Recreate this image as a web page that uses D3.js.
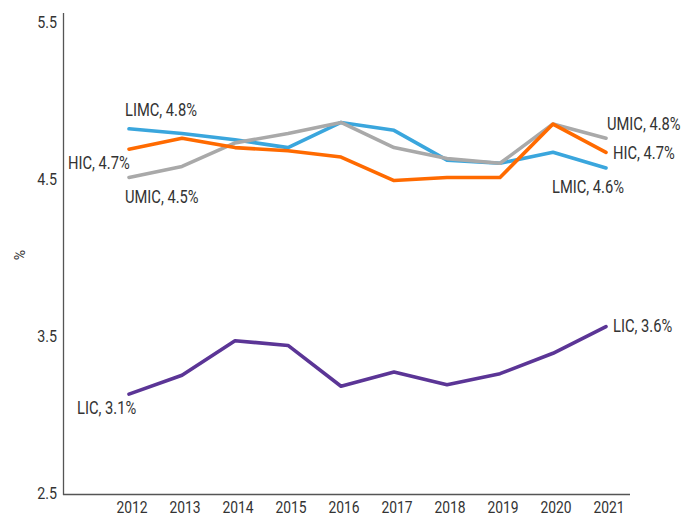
<!DOCTYPE html>
<html>
<head>
<meta charset="utf-8">
<script src="https://cdn.jsdelivr.net/npm/d3@7"></script>
<style>
  body { margin: 0; background: #fff; }
  text { font-family: "Roboto", sans-serif; fill: #333; }
</style>
</head>
<body>
<div id="chart"></div>
<script>
// data
var years = [2012, 2013, 2014, 2015, 2016, 2017, 2018, 2019, 2020, 2021];
var lic  = [3.13, 3.25, 3.47, 3.44, 3.18, 3.27, 3.19, 3.26, 3.39, 3.56];
var lmic = [4.82, 4.79, 4.75, 4.70, 4.86, 4.81, 4.62, 4.60, 4.67, 4.57];
var umic = [4.51, 4.58, 4.73, 4.79, 4.86, 4.70, 4.63, 4.60, 4.85, 4.76];
var hic  = [4.69, 4.76, 4.70, 4.68, 4.64, 4.49, 4.51, 4.51, 4.85, 4.67];
var yTicks = [2.5, 3.5, 4.5, 5.5];

var series = [
    { name: "LIC",  values: lic,  color: "#5b3596" },
    { name: "LMIC", values: lmic, color: "#3aa6dd" },
    { name: "UMIC", values: umic, color: "#a9a9a9" },
    { name: "HIC",  values: hic,  color: "#ff6a00" }
];

var labels = [
    { text: "LIMC, 4.8%", x: 125, y: 110 },
    { text: "HIC, 4.7%", x: 68, y: 163 },
    { text: "UMIC, 4.5%", x: 125, y: 197 },
    { text: "LIC, 3.1%", x: 77, y: 408 },
    { text: "UMIC, 4.8%", x: 607, y: 124 },
    { text: "HIC, 4.7%", x: 613, y: 153 },
    { text: "LMIC, 4.6%", x: 552, y: 187 },
    { text: "LIC, 3.6%", x: 613, y: 326 }
];

var width = 684, height = 517;
var squeeze = 0.84; // fake a condensed face

var svg = d3.select("#chart").append("svg")
    .attr("width", width)
    .attr("height", height);

var x = d3.scalePoint()
    .domain(years)
    .range([129, 606]);

var y = d3.scaleLinear()
    .domain([2.5, 5.5])
    .range([493, 22]);

function place(px, py) {
    return "translate(" + px + "," + py + ") scale(" + squeeze + ",1)";
}

// axes lines
svg.append("line")
    .attr("x1", 63.5).attr("x2", 63.5)
    .attr("y1", 13).attr("y2", 495)
    .attr("stroke", "#555").attr("stroke-width", 1.3);

svg.append("line")
    .attr("x1", 63).attr("x2", 630)
    .attr("y1", 494.5).attr("y2", 494.5)
    .attr("stroke", "#555").attr("stroke-width", 1.3);

// y tick labels
svg.append("g")
    .selectAll("text")
    .data(yTicks)
    .join("text")
    .attr("transform", function (d) { return place(57, y(d)); })
    .attr("dy", "0.35em")
    .attr("text-anchor", "end")
    .style("font-size", "17px")
    .text(function (d) { return d3.format(".1f")(d); });

// x tick labels
svg.append("g")
    .selectAll("text")
    .data(years)
    .join("text")
    .attr("transform", function (d) { return place(x(d) + 3, 507); })
    .attr("dy", "0.35em")
    .attr("text-anchor", "middle")
    .style("font-size", "16.5px")
    .text(function (d) { return d; });

// y title
svg.append("text")
    .attr("transform", "translate(20,255) rotate(-90)")
    .attr("text-anchor", "middle")
    .attr("dy", "0.35em")
    .style("font-size", "14px")
    .text("%");

var line = d3.line()
    .x(function (d, i) { return x(years[i]); })
    .y(function (d) { return y(d); });

svg.append("g")
    .selectAll("path")
    .data(series)
    .join("path")
    .attr("d", function (d) { return line(d.values); })
    .attr("fill", "none")
    .attr("stroke", function (d) { return d.color; })
    .attr("stroke-width", 3.6)
    .attr("stroke-linecap", "round")
    .attr("stroke-linejoin", "round");

svg.append("g")
    .selectAll("text")
    .data(labels)
    .join("text")
    .attr("transform", function (d) { return place(d.x, d.y); })
    .attr("dy", "0.35em")
    .style("font-size", "17.5px")
    .text(function (d) { return d.text; });
</script>
</body>
</html>
